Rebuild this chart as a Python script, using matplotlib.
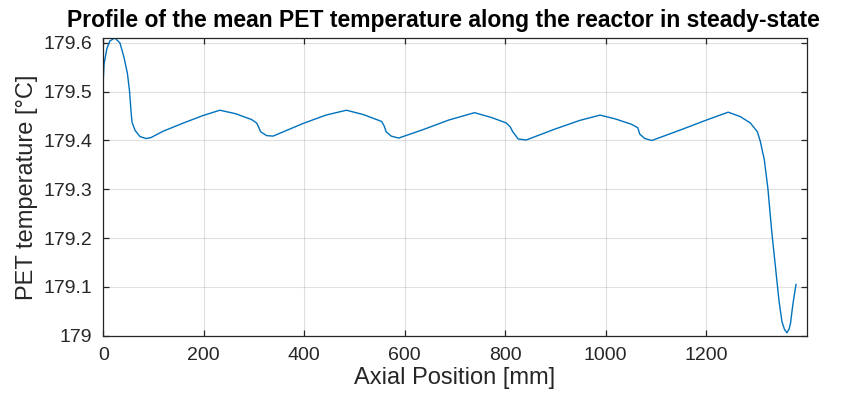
import matplotlib
matplotlib.use("Agg")
import matplotlib.pyplot as plt

axial_mm = [0, 1.5, 7, 13, 23, 33, 41, 48, 52, 55, 57, 63, 73, 85, 95, 119, 160, 198,
            232, 263, 295, 305, 309, 313, 325, 338, 398, 443, 484, 518, 554, 559, 563,
            573, 588, 636, 688, 739, 773, 802, 810, 815, 826, 842, 898, 948, 989, 1020,
            1052, 1064, 1068, 1078, 1092, 1150, 1201, 1244, 1268, 1288, 1302, 1308, 1316,
            1323, 1331, 1338, 1345, 1351, 1356, 1361, 1365, 1368, 1373, 1379]
temp_c = [179.527, 179.557, 179.588, 179.604, 179.610, 179.600, 179.571, 179.537, 179.503,
          179.462, 179.438, 179.421, 179.408, 179.404, 179.406, 179.419, 179.436, 179.451,
          179.462, 179.455, 179.443, 179.436, 179.428, 179.418, 179.410, 179.409, 179.435,
          179.452, 179.462, 179.453, 179.439, 179.430, 179.418, 179.409, 179.405, 179.422,
          179.442, 179.457, 179.447, 179.436, 179.428, 179.418, 179.403, 179.401, 179.423,
          179.441, 179.452, 179.444, 179.433, 179.426, 179.413, 179.404, 179.400, 179.422,
          179.442, 179.458, 179.449, 179.436, 179.418, 179.398, 179.360, 179.302, 179.210,
          179.142, 179.073, 179.029, 179.013, 179.006, 179.013, 179.025, 179.066, 179.105]

x_ticks = [0, 200, 400, 600, 800, 1000, 1200]
y_ticks = [179, 179.1, 179.2, 179.3, 179.4, 179.5, 179.6]
y_tick_labels = ["179", "179.1", "179.2", "179.3", "179.4", "179.5", "179.6"]

plt.rcParams['font.family'] = ['Liberation Sans', 'DejaVu Sans']

fig = plt.figure(figsize=(8.49, 4.03), dpi=100)
ax = fig.add_axes([0.1217, 0.167, 0.8283, 0.7387])

ax.plot(axial_mm, temp_c, color='#0072BD', lw=1.0)

ax.set_xlim(0, 1400)
ax.set_ylim(179, 179.61)
ax.set_xticks(x_ticks)
ax.set_yticks(y_ticks)
ax.set_yticklabels(y_tick_labels)

dark = '#262626'
ax.grid(True, color='#000000', alpha=0.12, lw=0.8)
ax.set_axisbelow(True)
for s in ax.spines.values():
    s.set_color(dark)
    s.set_linewidth(0.9)
ax.tick_params(direction='in', top=True, right=True, length=4, width=0.9,
               colors=dark, labelsize=14)
ax.tick_params(axis='y', pad=8)
ax.tick_params(axis='x', pad=8)
for lbl in ax.get_xticklabels() + ax.get_yticklabels():
    lbl.set_color(dark)

ax.set_xlabel('Axial Position [mm]', fontsize=17, color=dark, labelpad=2)
ax.set_ylabel('PET temperature [°C]', fontsize=17, color=dark, labelpad=4)
ax.set_title('Profile of the mean PET temperature along the reactor in steady-state',
             fontsize=16.5, fontweight='bold', color='black', pad=8, x=0.483)

fig.savefig('out.png', dpi=100)
